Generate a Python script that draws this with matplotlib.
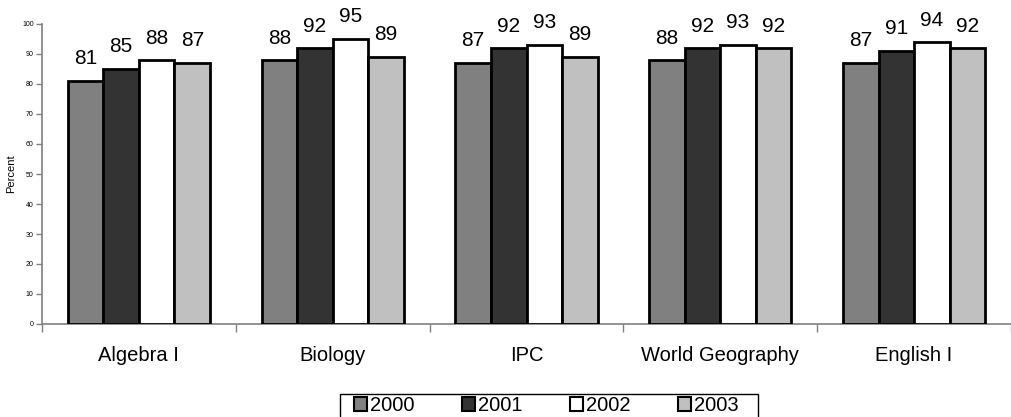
import matplotlib
matplotlib.use("Agg")
import matplotlib.pyplot as plt
import numpy as np
from matplotlib.patches import Patch, Rectangle

plt.rcParams['font.family'] = ['Liberation Sans', 'DejaVu Sans']

categories = ["Algebra I", "Biology", "IPC", "World Geography", "English I"]
years = ["2000", "2001", "2002", "2003"]
v2000 = [81, 88, 87, 88, 87]
v2001 = [85, 92, 92, 92, 91]
v2002 = [88, 95, 93, 93, 94]
v2003 = [87, 89, 89, 92, 92]
series = [v2000, v2001, v2002, v2003]
colors = ["#808080", "#333333", "#ffffff", "#c0c0c0"]

W, H = 1011, 417
fig = plt.figure(figsize=(W/100, H/100), dpi=100)
left_px, right_px, top_px, bot_px = 42, 1011, 24, 324
ax = fig.add_axes([left_px/W, 1-bot_px/H, (right_px-left_px)/W, (bot_px-top_px)/H])

x = np.arange(len(categories))
bw = 36/196
for i, (vals, c) in enumerate(zip(series, colors)):
    pos = x - 2*bw + bw/2 + i*bw
    ax.bar(pos, vals, width=bw, color=c, edgecolor='black', linewidth=2.0, zorder=3, label=years[i])
    for px_, v in zip(pos, vals):
        ax.annotate(str(v), (px_, v), xytext=(0, 9), textcoords='offset points',
                    ha='center', va='bottom', fontsize=15)

ax.set_ylim(0, 100)
ax.set_xlim(-0.5, -0.5 + (right_px-left_px)/196)
ax.set_yticks(np.arange(0, 101, 10))
ax.tick_params(axis='y', labelsize=5, length=4, width=1, color='#808080', pad=2)
ax.set_xticks(x)
ax.set_xticklabels(categories, fontsize=14.5)
ax.set_xticks(np.arange(-0.5, len(categories), 1), minor=True)
ax.tick_params(axis='x', which='major', length=0, pad=16)
ax.tick_params(axis='x', which='minor', length=6, width=1, color='#808080')
for s in ['top', 'right']:
    ax.spines[s].set_visible(False)
ax.spines['left'].set_color('#808080')
ax.spines['bottom'].set_color('#808080')
ax.spines['left'].set_linewidth(1.2)
ax.spines['bottom'].set_linewidth(1.2)
ax.set_ylabel("Percent", fontsize=8)
ax.yaxis.set_label_coords(-26/(right_px-left_px), 0.5)

handles = [Patch(facecolor=c, edgecolor='black', linewidth=1.5) for c in colors]
leg = fig.legend(handles, years, loc='upper center', bbox_to_anchor=(546/W, 1-393/H),
                 ncol=4, fontsize=14.5, frameon=False, handlelength=0.65,
                 handleheight=0.65, handletextpad=0.15, columnspacing=2.35, borderpad=0.15,
                 borderaxespad=0)
fig.patches.append(Rectangle((340/W, 1-421/H), 418/W, 27/H, transform=fig.transFigure,
                             fill=False, edgecolor='black', linewidth=1.0))

fig.savefig("out.png", dpi=100)
